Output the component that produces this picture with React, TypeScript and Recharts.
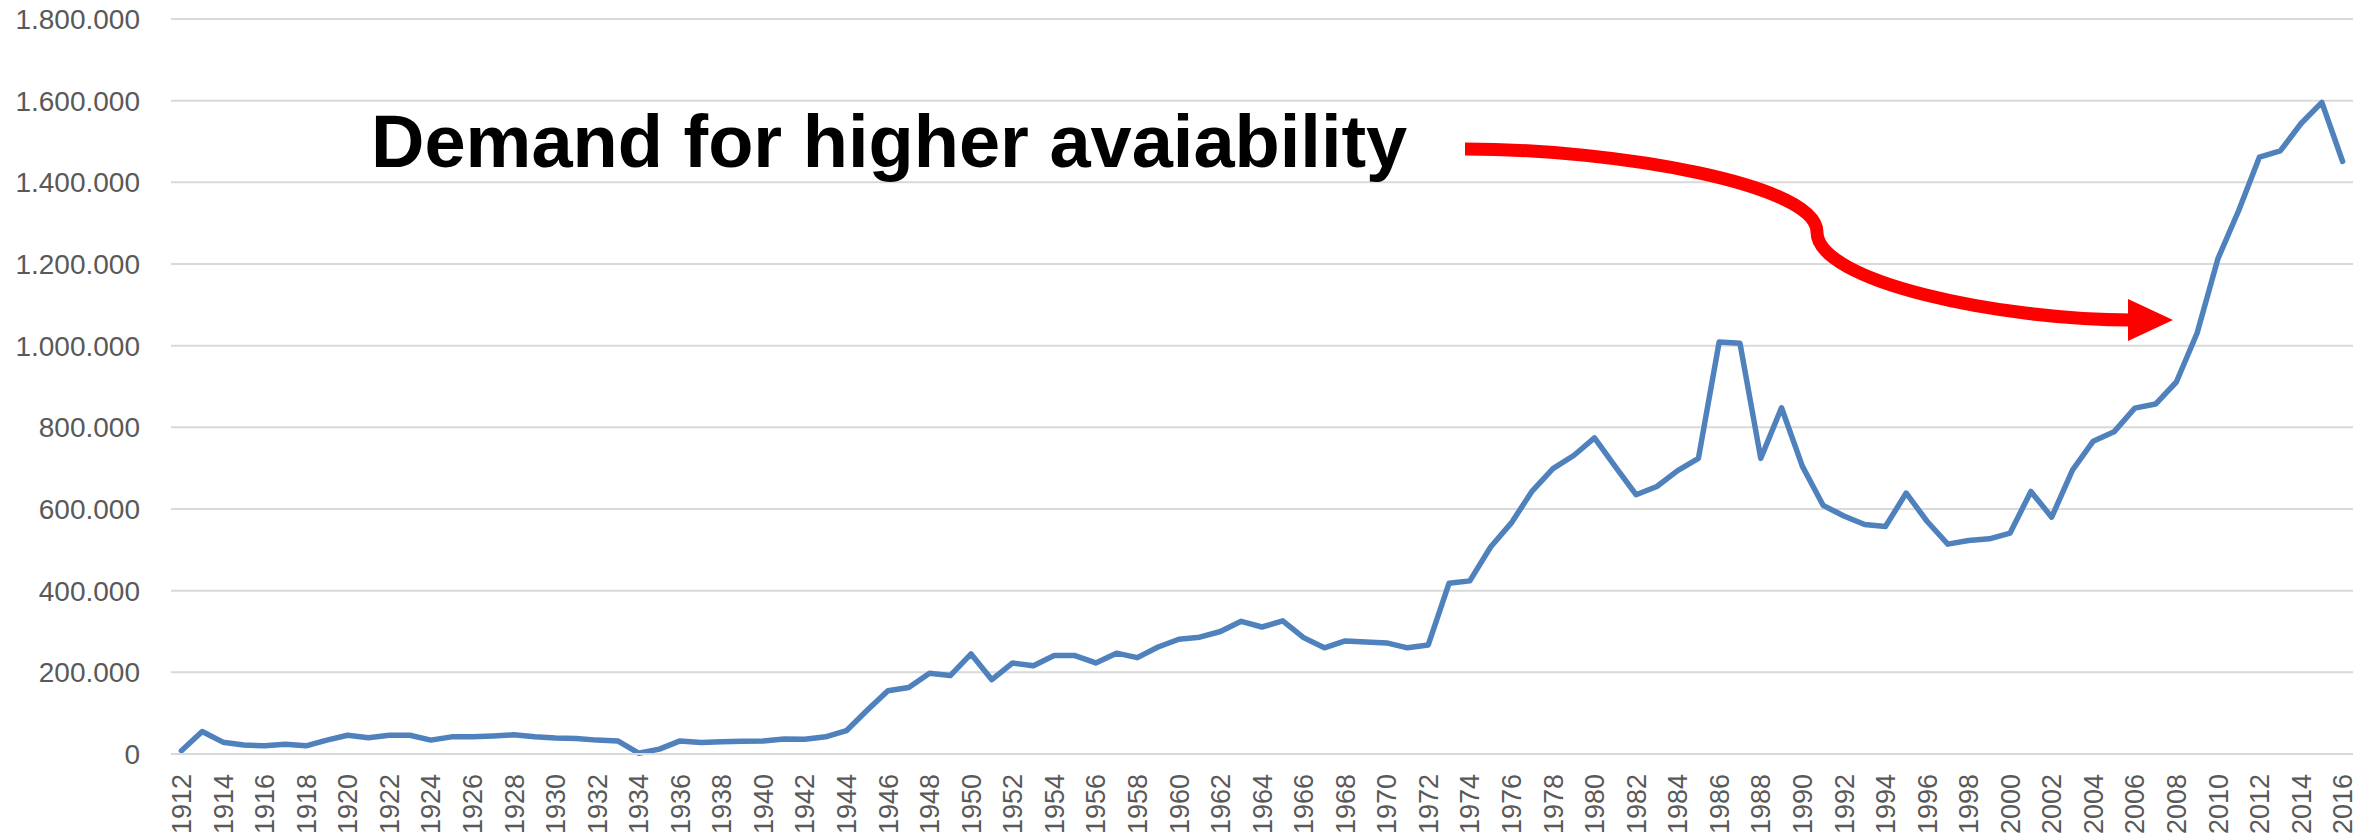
import React from "react";
import { LineChart, Line, XAxis, YAxis, CartesianGrid } from "recharts";

const years: number[] = [
  1912, 1913, 1914, 1915, 1916, 1917, 1918, 1919, 1920, 1921, 1922, 1923, 1924, 1925, 1926,
  1927, 1928, 1929, 1930, 1931, 1932, 1933, 1934, 1935, 1936, 1937, 1938, 1939, 1940, 1941,
  1942, 1943, 1944, 1945, 1946, 1947, 1948, 1949, 1950, 1951, 1952, 1953, 1954, 1955, 1956,
  1957, 1958, 1959, 1960, 1961, 1962, 1963, 1964, 1965, 1966, 1967, 1968, 1969, 1970, 1971,
  1972, 1973, 1974, 1975, 1976, 1977, 1978, 1979, 1980, 1981, 1982, 1983, 1984, 1985, 1986,
  1987, 1988, 1989, 1990, 1991, 1992, 1993, 1994, 1995, 1996, 1997, 1998, 1999, 2000, 2001,
  2002, 2003, 2004, 2005, 2006, 2007, 2008, 2009, 2010, 2011, 2012, 2013, 2014, 2015, 2016,
];

const values: number[] = [
  8000, 55000, 29000, 22000, 20000, 24000, 20000, 34000, 46000, 40000, 46000, 46000, 34000, 42000, 42000,
  44000, 47000, 42000, 39000, 38000, 34000, 32000, 2000, 12000, 32000, 28000, 30000, 31000, 32000, 37000,
  36000, 42000, 57000, 107000, 155000, 163000, 198000, 192000, 245000, 182000, 223000, 216000, 241000, 241000, 223000,
  247000, 236000, 262000, 281000, 286000, 300000, 325000, 311000, 326000, 285000, 260000, 277000, 274000, 272000, 260000,
  267000, 418000, 424000, 507000, 566000, 644000, 699000, 731000, 774000, 704000, 635000, 655000, 694000, 724000, 1009000,
  1006000, 724000, 848000, 705000, 609000, 583000, 562000, 557000, 639000, 570000, 514000, 523000, 527000, 541000, 643000,
  580000, 695000, 766000, 789000, 847000, 857000, 911000, 1031000, 1213000, 1331000, 1462000, 1477000, 1544000, 1596000, 1451000,
];

const yTicks: number[] = [0, 200000, 400000, 600000, 800000, 1000000, 1200000, 1400000, 1600000, 1800000];

const annotationText = "Demand for higher avaiability";

const data = years.map((y, i) => ({ year: y, value: values[i] }));

const fmt = (n: number) => String(n).replace(/\B(?=(\d{3})+(?!\d))/g, ".");

const FONT = "'Liberation Sans', Arial, sans-serif";
const LABEL = "#595959";

const YTick = (props: any) => {
  const { y, payload } = props;
  return (
    <text x={140} y={y} dy="0.358em" textAnchor="end" fontFamily={FONT} fontSize={28} fill={LABEL}>
      {fmt(payload.value)}
    </text>
  );
};

const XTick = (props: any) => {
  const { x, payload } = props;
  return (
    <text
      transform={`translate(${x},774) rotate(-90)`}
      dy="0.358em"
      textAnchor="end"
      fontFamily={FONT}
      fontSize={27}
      fill={LABEL}
    >
      {payload.value}
    </text>
  );
};

export default function App() {
  return (
    <div style={{ position: "absolute", left: 0, top: 0, width: 2374, height: 836, background: "#fff" }}>
      <LineChart
        width={2374}
        height={836}
        data={data}
        margin={{ top: 19, right: 21, bottom: 0, left: 0 }}
      >
        <CartesianGrid vertical={false} stroke="#D9D9D9" strokeWidth={2} />
        <XAxis
          dataKey="year"
          type="category"
          scale="band"
          interval={1}
          height={82}
          tick={<XTick />}
          tickLine={false}
          axisLine={{ stroke: "#D9D9D9", strokeWidth: 2 }}
        />
        <YAxis
          type="number"
          domain={[0, 1800000]}
          ticks={yTicks}
          width={171}
          tick={<YTick />}
          tickLine={false}
          axisLine={false}
          interval={0}
        />
        <Line
          type="linear"
          dataKey="value"
          stroke="#4F81BD"
          strokeWidth={5.5}
          strokeLinejoin="round"
          strokeLinecap="round"
          dot={false}
          isAnimationActive={false}
        />
      </LineChart>
      <svg
        width={2374}
        height={836}
        style={{ position: "absolute", left: 0, top: 0, pointerEvents: "none" }}
      >
        <text x={371} y={167} fontFamily={FONT} fontWeight="bold" fontSize={74} fill="#000">
          {annotationText}
        </text>
        <path
          d="M 1465 149 C 1620 149, 1817 185, 1817 232 C 1817 282, 2000 320, 2132 320"
          fill="none"
          stroke="#FF0000"
          strokeWidth={13}
        />
        <polygon points="2128,299 2173,320 2128,341" fill="#FF0000" />
      </svg>
    </div>
  );
}
